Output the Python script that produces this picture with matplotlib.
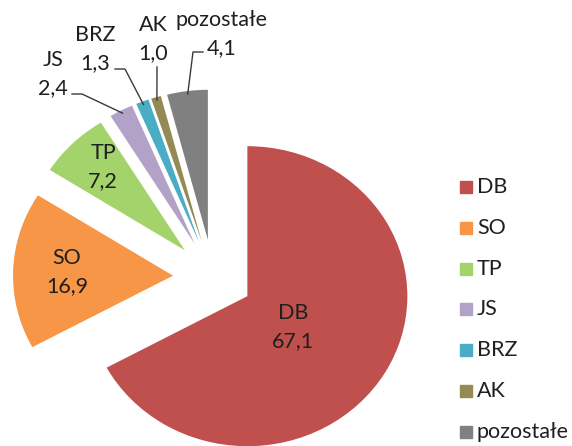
import matplotlib
matplotlib.use('Agg')
import matplotlib.pyplot as plt
import numpy as np

# data
labels = ['DB', 'SO', 'TP', 'JS', 'BRZ', 'AK', 'pozostałe']
values = [67.1, 16.9, 7.2, 2.4, 1.3, 1.0, 4.1]
value_text = ['67,1', '16,9', '7,2', '2,4', '1,3', '1,0', '4,1']
colors = ['#C0504D', '#F79646', '#A5D36B', '#B3A2C7', '#4BACC6', '#948A54', '#808080']

plt.rcParams['font.family'] = ['Lato', 'DejaVu Sans']

W, H = 572, 446
fig = plt.figure(figsize=(W / 100, H / 100), dpi=100)
ax = fig.add_axes([0, 0, 1, 1])

# pie center / radii in pixels (from top-left), the original is slightly stretched
cx, cy, rx, ry = 213, 277, 160, 150


def px(x, y):
    # pixel position -> data coords
    return (x - cx) / rx, (cy - y) / ry


wedges, _ = ax.pie(values, colors=colors, startangle=90, counterclock=False,
                   explode=[0.25] * len(values), radius=1,
                   wedgeprops=dict(linewidth=0))

ax.set_aspect('auto')
ax.set_xlim(-cx / rx, (W - cx) / rx)
ax.set_ylim(-(H - cy) / ry, cy / ry)
ax.axis('off')

fs = 15.5
tc = '#1f1f1f'
# labels inside the big slices
inside = {0: (293, 327), 1: (67, 272), 2: (103, 167)}
for i, (x, y) in inside.items():
    ax.text(*px(x, y), labels[i] + '\n' + value_text[i], ha='center', va='center',
            fontsize=fs, color=tc, linespacing=1.45)

# labels outside with leader lines: text pos, leader path (pixel coords)
outside = {
    3: ((53, 74), [(72, 94), (82, 94)]),
    4: ((95, 49), [(115, 69), (125, 69)]),
    5: ((153, 39), [(157, 67)]),
    6: ((222, 34), [(203, 52), (193, 52)]),
}
for i, ((tx, ty), path) in outside.items():
    ax.text(*px(tx, ty), labels[i] + '\n' + value_text[i], ha='center', va='center',
            fontsize=fs, color=tc, linespacing=1.45)
    w = wedges[i]
    mid = np.deg2rad((w.theta1 + w.theta2) / 2)
    ex = w.center[0] + 0.98 * w.r * np.cos(mid)
    ey = w.center[1] + 0.98 * w.r * np.sin(mid)
    pts = [px(x, y) for x, y in path] + [(ex, ey)]
    ax.plot([p[0] for p in pts], [p[1] for p in pts], color='#3a3a3a', lw=1.0)

# legend
leg_x, leg_y0, leg_dy = 466, 187, 40.8
for i, lab in enumerate(labels):
    lx, ly = px(leg_x, leg_y0 + i * leg_dy)
    ax.plot(lx, ly, marker='s', ms=8.5, color=colors[i], linestyle='none', clip_on=False)
    ax.text(*px(leg_x + 11, leg_y0 + i * leg_dy), lab, ha='left', va='center',
            fontsize=fs, color=tc)

fig.savefig('out.png', dpi=100)
